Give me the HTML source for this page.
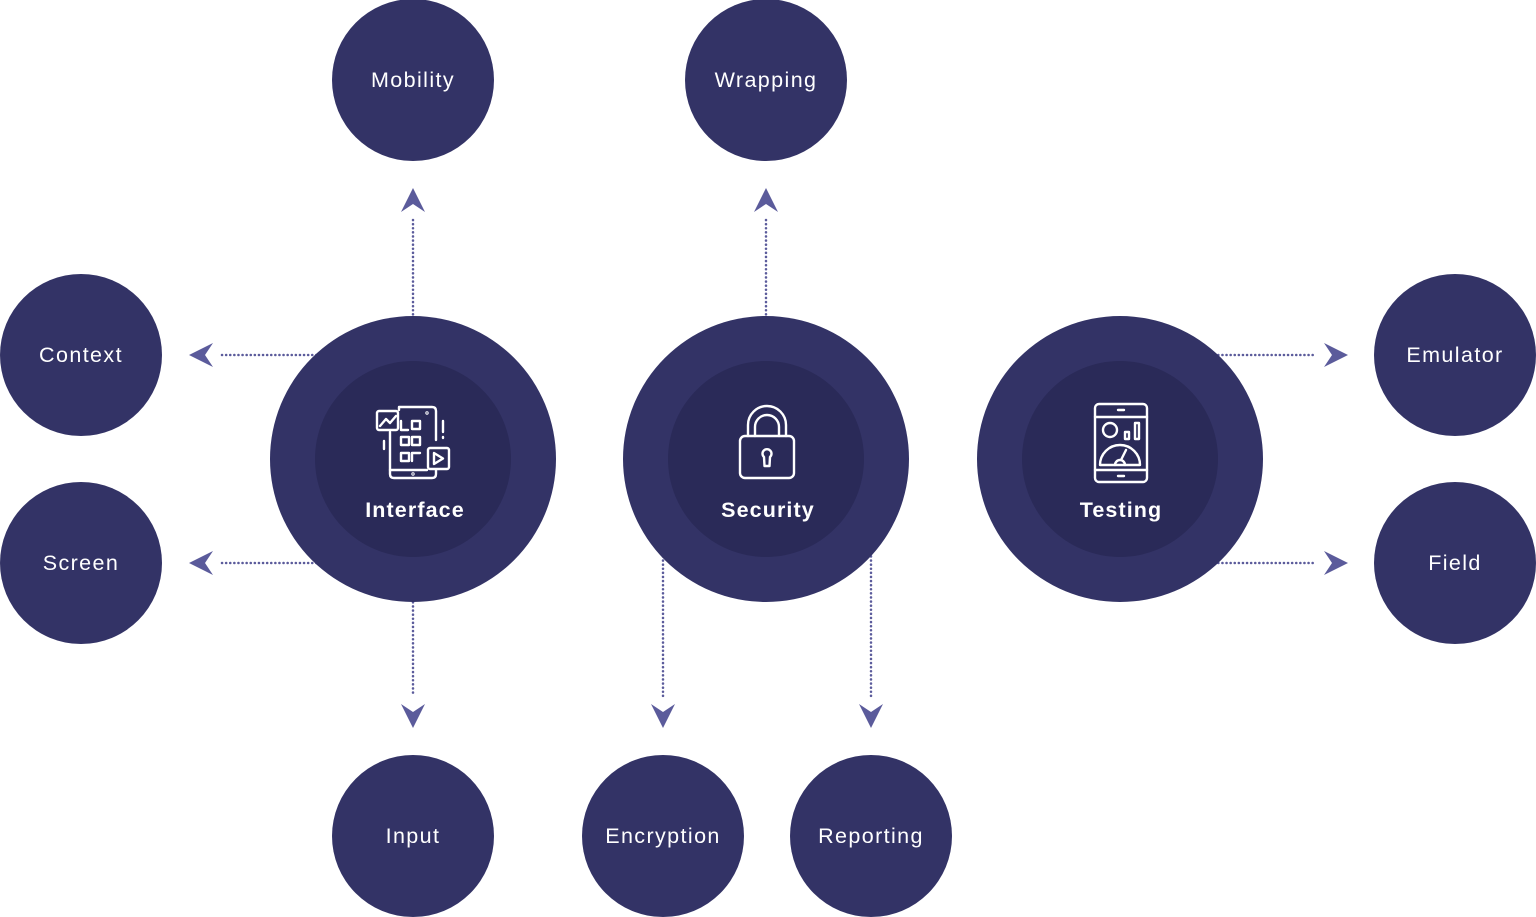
<!DOCTYPE html>
<html><head><meta charset="utf-8"><style>
html,body{margin:0;padding:0;background:#fff;}
svg{display:block}
text{font-family:"Liberation Sans",sans-serif;fill:#fff;}
.s{font-size:21.5px;font-weight:normal;letter-spacing:1.4px}
.b{font-size:21.5px;font-weight:bold;letter-spacing:1.1px}
.d{stroke:#5b5b9b;stroke-width:2.5;stroke-dasharray:0.1 4;stroke-linecap:round;fill:none}
.a{fill:#5b5b9b}
.i{fill:none;stroke:#fff;stroke-width:2.4;stroke-linecap:round;stroke-linejoin:round}
</style></head><body>
<svg width="1536" height="917" viewBox="0 0 1536 917" xmlns="http://www.w3.org/2000/svg">
<line class="d" x1="413" y1="220" x2="413" y2="330"/>
<line class="d" x1="766" y1="220" x2="766" y2="330"/>
<line class="d" x1="222" y1="355" x2="330" y2="355"/>
<line class="d" x1="222" y1="563" x2="330" y2="563"/>
<line class="d" x1="1206" y1="355" x2="1315" y2="355"/>
<line class="d" x1="1206" y1="563" x2="1315" y2="563"/>
<line class="d" x1="413" y1="590" x2="413" y2="696"/>
<line class="d" x1="663" y1="540" x2="663" y2="696"/>
<line class="d" x1="871" y1="540" x2="871" y2="696"/>
<polygon class="a" points="413,188 425,212 413,204 401,212"/>
<polygon class="a" points="766,188 778,212 766,204 754,212"/>
<polygon class="a" points="189,355 213,343 205,355 213,367"/>
<polygon class="a" points="189,563 213,551 205,563 213,575"/>
<polygon class="a" points="1348,355 1324,343 1332,355 1324,367"/>
<polygon class="a" points="1348,563 1324,551 1332,563 1324,575"/>
<polygon class="a" points="413,728 401,704 413,712 425,704"/>
<polygon class="a" points="663,728 651,704 663,712 675,704"/>
<polygon class="a" points="871,728 859,704 871,712 883,704"/>
<g fill="#333366">
<circle cx="413" cy="459" r="143"/><circle cx="766" cy="459" r="143"/><circle cx="1120" cy="459" r="143"/>
</g>
<g fill="#2a2a58">
<circle cx="413" cy="459" r="98"/><circle cx="766" cy="459" r="98"/><circle cx="1120" cy="459" r="98"/>
</g>
<g fill="#333366">
<circle cx="413" cy="80" r="81"/><circle cx="766" cy="80" r="81"/>
<circle cx="81" cy="355" r="81"/><circle cx="81" cy="563" r="81"/>
<circle cx="1455" cy="355" r="81"/><circle cx="1455" cy="563" r="81"/>
<circle cx="413" cy="836" r="81"/><circle cx="663" cy="836" r="81"/><circle cx="871" cy="836" r="81"/>
</g>
<g class="s" text-anchor="middle">
<text x="413" y="87">Mobility</text>
<text x="766" y="87">Wrapping</text>
<text x="81" y="362">Context</text>
<text x="81" y="570">Screen</text>
<text x="1455" y="362">Emulator</text>
<text x="1455" y="570">Field</text>
<text x="413" y="843">Input</text>
<text x="663" y="843">Encryption</text>
<text x="871" y="843">Reporting</text>
</g>
<g class="b" text-anchor="middle">
<text x="415" y="517">Interface</text>
<text x="768" y="517">Security</text>
<text x="1121" y="517">Testing</text>
</g>
<g class="i">
<path d="M399,410 V407 H432 Q436,407 436,411 V440"/>
<path d="M390,432 V474 Q390,478 394,478 H432 Q436,478 436,474 V470"/>
<line x1="390" y1="470" x2="427" y2="470"/>
<rect x="377" y="411" width="21" height="19" rx="2"/>
<path d="M380,426 L386,419 L390,423 L396,416"/>
<path d="M401,421 V430 H408 M412,421 h8 v8 h-8 z"/>
<rect x="401" y="437" width="8" height="8"/><rect x="412" y="437" width="8" height="8"/>
<rect x="401" y="453" width="8" height="8"/>
<path d="M412,461 V453 H420"/>
<line x1="443" y1="421" x2="443" y2="432"/><line x1="443" y1="437" x2="443" y2="438"/>
<line x1="384" y1="441" x2="384" y2="449"/>
<rect x="428" y="448" width="21" height="21" rx="2"/>
<path d="M434,453 L443,458.5 L434,464 Z"/>
<circle cx="413" cy="474" r="0.5"/>
<circle cx="427" cy="413" r="0.5"/>
</g>
<g class="i">
<rect x="740" y="436" width="54" height="42" rx="5"/>
<path d="M748,436 V425 A19,19 0 0 1 786,425 V436"/>
<path d="M755,436 V427 A12,12 0 0 1 779,427 V436"/>
<path d="M764,457 A4.5,4.5 0 1 1 770,457 L769.5,466 H764.5 Z"/>
</g>
<g class="i">
<rect x="1095" y="404" width="52" height="78" rx="4"/>
<line x1="1095" y1="417" x2="1147" y2="417"/><line x1="1095" y1="470" x2="1147" y2="470"/>
<line x1="1118" y1="410" x2="1124" y2="410"/><line x1="1118" y1="476" x2="1124" y2="476"/>
<circle cx="1110" cy="430" r="7"/>
<rect x="1125" y="432" width="4" height="7"/><rect x="1135" y="423" width="4" height="16"/>
<path d="M1100,465 A20,20 0 0 1 1140,465 Z"/>
<path d="M1115,465 A5,5 0 0 1 1125,465 M1121,460 L1126,450"/>
</g>
</svg>
</body></html>
